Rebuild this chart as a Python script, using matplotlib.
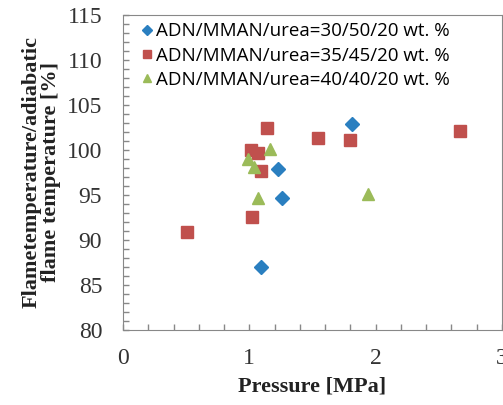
import matplotlib.pyplot as plt
from matplotlib.ticker import MultipleLocator

# data
x_30 = [1.81, 1.23, 1.26, 1.09]
y_30 = [102.9, 97.9, 94.7, 87.0]

x_35 = [1.14, 1.545, 1.80, 2.665, 1.01, 1.07, 1.09, 1.025, 0.51]
y_35 = [102.5, 101.3, 101.1, 102.1, 100.0, 99.7, 97.7, 92.6, 90.9]

x_40 = [1.165, 0.99, 1.04, 1.065, 1.94]
y_40 = [100.1, 99.0, 98.1, 94.7, 95.1]

labels = ['ADN/MMAN/urea=30/50/20 wt. %',
          'ADN/MMAN/urea=35/45/20 wt. %',
          'ADN/MMAN/urea=40/40/20 wt. %']

fig = plt.figure(figsize=(5.03, 4.05), dpi=100)
ax = fig.add_axes([123 / 503, 75 / 405, 379 / 503, 315 / 405])

ax.plot(x_30, y_30, 'D', color='#2A7FC0', markersize=7, label=labels[0], linestyle='none')
ax.plot(x_35, y_35, 's', color='#C0504D', markersize=8.5, label=labels[1], linestyle='none')
ax.plot(x_40, y_40, '^', color='#9BBB59', markersize=9, label=labels[2], linestyle='none')

ax.set_xlim(0, 3)
ax.set_ylim(80, 115)
ax.xaxis.set_major_locator(MultipleLocator(1))
ax.xaxis.set_minor_locator(MultipleLocator(0.2))
ax.yaxis.set_major_locator(MultipleLocator(5))
ax.yaxis.set_minor_locator(MultipleLocator(1))
ax.tick_params(which='both', direction='in', color='#888888', length=4, width=1)
ax.tick_params(which='both', top=False, right=False)
ax.tick_params(axis='x', pad=13)
ax.tick_params(axis='y', pad=15)
for t in ax.get_xticklabels() + ax.get_yticklabels():
    t.set_fontfamily('Liberation Serif')
    t.set_fontsize(17)
    t.set_color('#333333')
for s in ax.spines.values():
    s.set_color('#888888')

ax.set_xlabel('Pressure [MPa]', fontfamily='Liberation Serif', fontweight='bold',
              fontsize=16, color='#222222', labelpad=5)
ax.set_ylabel('Flametemperature/adiabatic\nflame temperature [%]',
              fontfamily='Liberation Serif', fontweight='bold', fontsize=16,
              color='#222222', labelpad=4, linespacing=1.0)

ax.legend(loc='upper left', bbox_to_anchor=(0.025, 1.0), frameon=False,
          prop={'family': 'Open Sans', 'size': 13.5},
          handletextpad=0.15, handlelength=0.7, labelspacing=0.33,
          borderaxespad=0.1, borderpad=0.3, markerscale=0.7)

fig.savefig('out.png', dpi=100)
